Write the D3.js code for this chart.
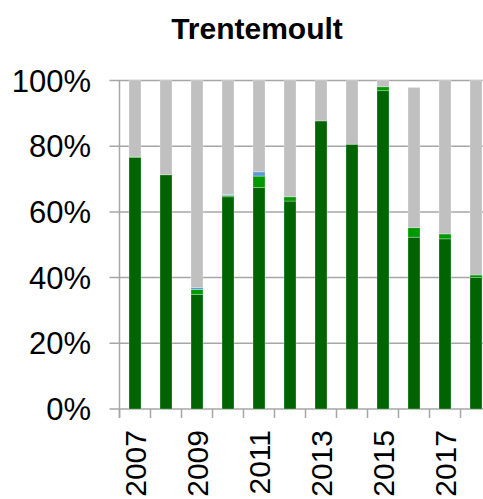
<!DOCTYPE html>
<html>
<head>
<meta charset="utf-8">
<script src="https://d3js.org/d3.v7.min.js"></script>
<style>
  body { margin: 0; background: #fff; }
  text { font-family: "Liberation Sans", Arial, sans-serif; fill: #000; }
</style>
</head>
<body>
<div id="chart"></div>
<script>
let years = ["2007","2008","2009","2010","2011","2012","2013","2014","2015","2016","2017","2018"];
let darkGreen = [76.6, 71.3, 34.9, 64.6, 67.4, 63.3, 87.7, 80.6, 96.9, 52.3, 51.8, 40.0];
let lightGreen = [0.3, 0, 1.5, 0.4, 3.5, 1.3, 0, 0, 1.2, 2.9, 1.5, 0.8];
let blue = [0, 0, 0.6, 0.3, 1.3, 0, 0, 0, 0, 0, 0, 0];
let gray = [23.1, 28.7, 63.0, 34.7, 27.8, 35.4, 12.3, 19.4, 1.9, 42.7, 46.7, 59.2];
let yTicks = [0, 20, 40, 60, 80, 100];
let xLabels = ["2007","2009","2011","2013","2015","2017"];

let seriesNames = ["darkGreen", "lightGreen", "blue", "gray"];
let colors = ["#006400", "#009a00", "#5b9bd5", "#c0c0c0"];

let width = 483, height = 499;
let plotLeft = 119.5, plotTop = 80.5, plotBottom = 409;

let svg = d3.select("#chart")
  .append("svg")
    .attr("width", width)
    .attr("height", height);

let x = d3.scaleBand()
  .domain(years)
  .range([plotLeft, plotLeft + 31 * years.length])
  .paddingInner(0.613)
  .paddingOuter(0.3065);

let y = d3.scaleLinear()
  .domain([0, 100])
  .range([plotBottom, plotTop]);

// table for the stack
let table = years.map((yr, i) => ({
  year: yr,
  darkGreen: darkGreen[i],
  lightGreen: lightGreen[i],
  blue: blue[i],
  gray: gray[i]
}));
let stacked = d3.stack().keys(seriesNames)(table);

// gridlines
svg.append("g")
  .selectAll("line")
  .data(yTicks)
  .join("line")
    .attr("x1", plotLeft - 10)
    .attr("x2", width)
    .attr("y1", d => y(d))
    .attr("y2", d => y(d))
    .attr("stroke", "#a6a6a6")
    .attr("stroke-width", 1.5);

// bars
svg.append("g")
  .selectAll("g")
  .data(stacked)
  .join("g")
    .attr("fill", (d, i) => colors[i])
  .selectAll("rect")
  .data(d => d.filter(s => s[1] - s[0] > 0))
  .join("rect")
    .attr("x", d => x(d.data.year))
    .attr("width", x.bandwidth())
    .attr("y", d => y(d[1]))
    .attr("height", d => y(d[0]) - y(d[1]))
    .attr("stroke", "rgba(255,255,255,0.35)")
    .attr("stroke-width", 0.8);

// y axis line
svg.append("line")
  .attr("x1", plotLeft).attr("x2", plotLeft)
  .attr("y1", plotTop).attr("y2", plotBottom + 9)
  .attr("stroke", "#a6a6a6")
  .attr("stroke-width", 1.5);

// x ticks at band edges
let edges = d3.range(years.length + 1).map(i => plotLeft + i * x.step());
svg.append("g")
  .selectAll("line")
  .data(edges)
  .join("line")
    .attr("x1", d => d).attr("x2", d => d)
    .attr("y1", plotBottom).attr("y2", plotBottom + 9)
    .attr("stroke", "#a6a6a6")
    .attr("stroke-width", 1.5);

// y labels
svg.append("g")
  .selectAll("text")
  .data(yTicks)
  .join("text")
    .text(d => d + "%")
    .attr("x", 91)
    .attr("y", d => y(d))
    .attr("dy", "0.36em")
    .attr("text-anchor", "end")
    .style("font-size", "31px");

// x labels
svg.append("g")
  .selectAll("text")
  .data(xLabels)
  .join("text")
    .text(d => d)
    .attr("transform", d => "translate(" + (x(d) + x.bandwidth() / 2) + "," + 430 + ") rotate(-90)")
    .attr("dy", "0.36em")
    .attr("text-anchor", "end")
    .style("font-size", "30px");

svg.append("text")
  .text("Trentemoult")
  .attr("x", 257)
  .attr("y", 39)
  .attr("text-anchor", "middle")
  .style("font-size", "30px")
  .style("font-weight", "bold");
</script>
</body>
</html>
